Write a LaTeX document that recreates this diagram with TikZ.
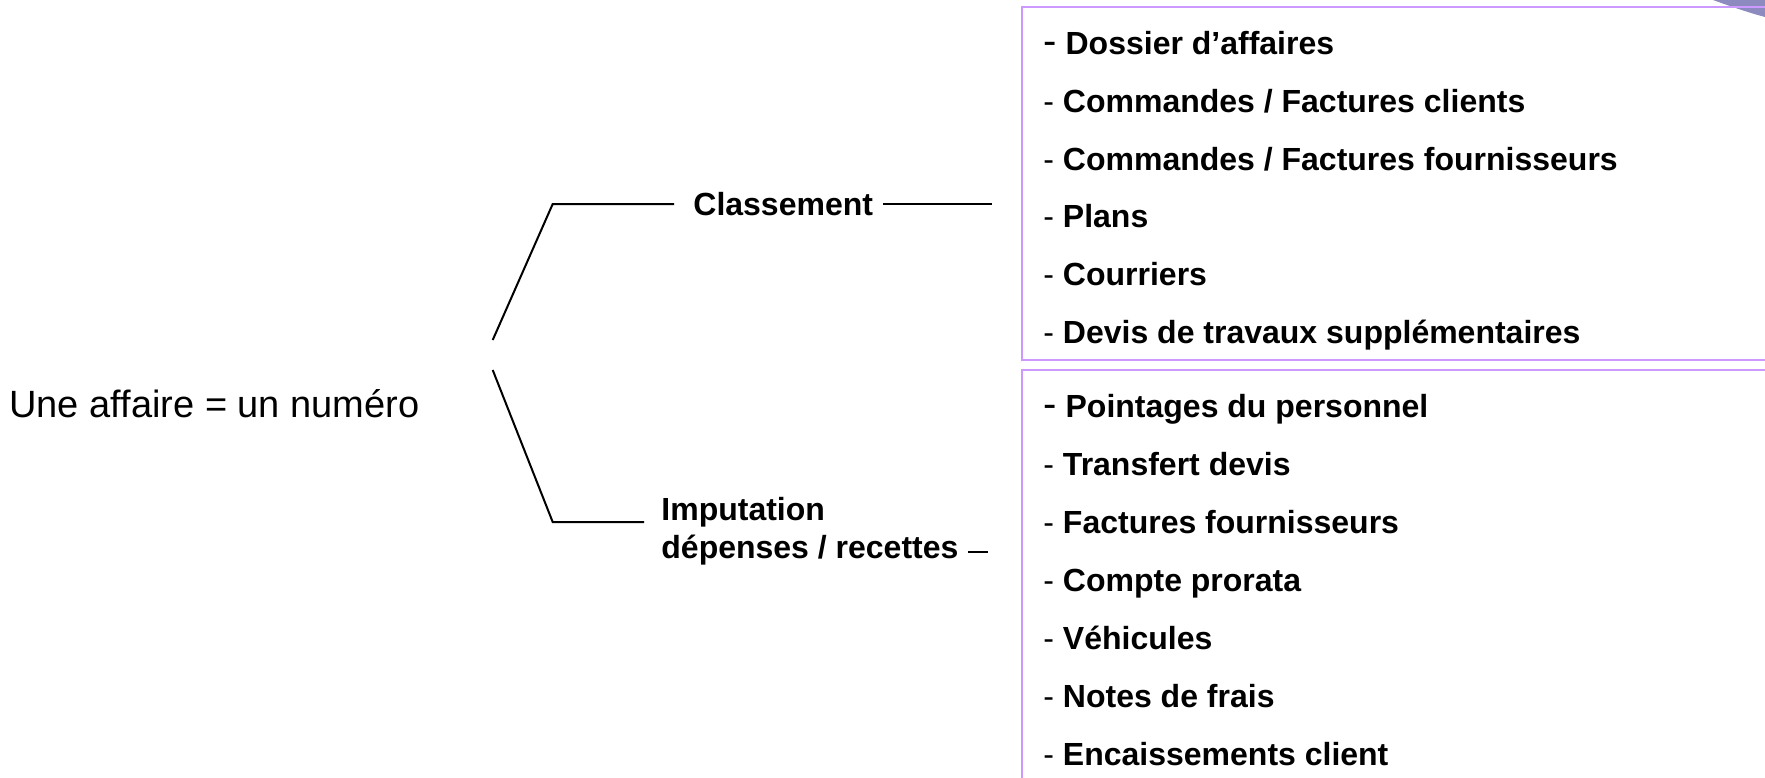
\documentclass[tikz,border=0pt]{standalone}
\usepackage{fontspec}
\setmainfont{Liberation Sans}
\definecolor{boxpurple}{RGB}{204,153,255}
\definecolor{cornerpurple}{RGB}{140,138,190}
\begin{document}
\begin{tikzpicture}[x=0.5pt,y=-0.5pt,
  item/.style={anchor=base west, inner sep=0pt, font=\fontsize{16}{19}\selectfont},
  branch/.style={anchor=base west, inner sep=0pt, font=\fontsize{16}{19}\selectfont\bfseries, align=left},
  link/.style={line width=1pt, black},
  listbox/.style={draw=boxpurple, line width=0.8pt}]
\useasboundingbox (0,0) rectangle (1765,777);
\begin{scope}
\clip (0,0) rectangle (1765,777);
\fill[cornerpurple] (1713,0) .. controls (1735,8) and (1750,13) .. (1765,17) -- (1765,0) -- cycle;
\draw[listbox] (1022,7) rectangle (1780,360);
\draw[listbox] (1022,370) rectangle (1780,800);
\end{scope}

\node[anchor=base west, inner sep=0pt, font=\fontsize{19}{23}\selectfont] (root) at (9,417) {Une affaire = un numéro};

\node[branch] (classement) at (693,215) {Classement};
\node[branch] (imputation) at (661,558) {Imputation\\dépenses / recettes};

\node[item] (a1) at (1043,54)  {{\fontsize{20}{20}\selectfont -} \textbf{Dossier d’affaires}};
\node[item] (a2) at (1043,112) {- \textbf{Commandes / Factures clients}};
\node[item] (a3) at (1043,170) {- \textbf{Commandes / Factures fournisseurs}};
\node[item] (a4) at (1043,227) {- \textbf{Plans}};
\node[item] (a5) at (1043,285) {- \textbf{Courriers}};
\node[item] (a6) at (1043,343) {- \textbf{Devis de travaux supplémentaires}};

\node[item] (b1) at (1043,417) {{\fontsize{20}{20}\selectfont -} \textbf{Pointages du personnel}};
\node[item] (b2) at (1043,475) {- \textbf{Transfert devis}};
\node[item] (b3) at (1043,533) {- \textbf{Factures fournisseurs}};
\node[item] (b4) at (1043,591) {- \textbf{Compte prorata}};
\node[item] (b5) at (1043,649) {- \textbf{Véhicules}};
\node[item] (b6) at (1043,707) {- \textbf{Notes de frais}};
\node[item] (b7) at (1043,765) {- \textbf{Encaissements client}};

\coordinate (u0) at (492.7,340);
\coordinate (u1) at (552.7,204);
\coordinate (u2) at (674,204);
\coordinate (u3) at (883,204);
\coordinate (u4) at (992,204);
\coordinate (d0) at (492.7,370);
\coordinate (d1) at (552.7,522);
\coordinate (d2) at (644,522);
\coordinate (d3) at (968,552);
\coordinate (d4) at (988,552);

\draw[link] (u0) -- (u1) -- (u2);
\draw[link] (u3) -- (u4);
\draw[link] (d0) -- (d1) -- (d2);
\draw[link] (d3) -- (d4);
\end{tikzpicture}
\end{document}
